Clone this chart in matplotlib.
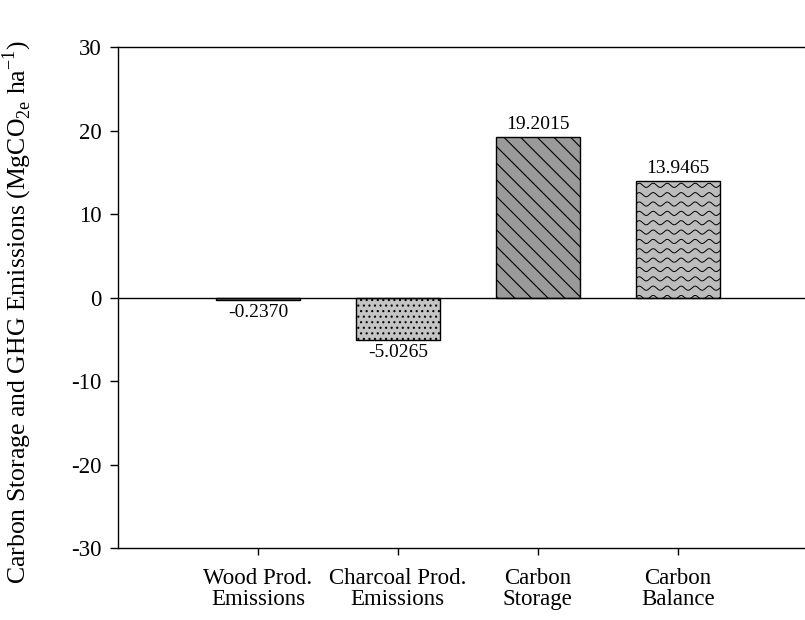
import numpy as np
import matplotlib
matplotlib.use('Agg')
import matplotlib.pyplot as plt

categories = ['Wood Prod.\nEmissions', 'Charcoal Prod.\nEmissions', 'Carbon\nStorage', 'Carbon\nBalance']
values = [-0.2370, -5.0265, 19.2015, 13.9465]
colors = ['#7a7a7a', '#c4c4c4', '#9a9a9a', '#bcbcbc']
hatches = ['', '...', '\\\\', '']

plt.rcParams['font.family'] = 'Liberation Serif'
plt.rcParams['axes.unicode_minus'] = False
plt.rcParams['hatch.linewidth'] = 0.8
plt.rcParams['hatch.color'] = 'black'

fig = plt.figure(figsize=(8.05, 6.2), dpi=100)
ax = fig.add_axes([0.1466, 0.116, 0.8534, 0.808])

pos = np.arange(1, len(values) + 1)
bars = ax.bar(pos, values, width=0.6, color=colors, edgecolor='black',
              linewidth=1.0, zorder=3)
for b, h in zip(bars, hatches):
    b.set_hatch(h)

# wavy fill for the last bar (no wave hatch in matplotlib)
wb = bars[-1]
x0, w, h = wb.get_x(), wb.get_width(), wb.get_height()
xs = np.linspace(x0, x0 + w, 400)
for yy in np.arange(h - 0.5, 0, -1.12):
    line, = ax.plot(xs, yy + 0.25 * np.sin(2 * np.pi * (xs - x0) / 0.1),
                    color='black', lw=0.7, zorder=4)
    line.set_clip_path(wb)

ax.axhline(0, color='black', lw=1.0, zorder=5)

for b, v in zip(bars, values):
    va = 'bottom' if v > 0 else 'top'
    off = 3 if v > 0 else -3
    ax.annotate(f'{v:.4f}', (b.get_x() + b.get_width() / 2, v),
                xytext=(0, off), textcoords='offset points',
                ha='center', va=va, fontsize=14)

ax.set_xlim(0, 4.91)
ax.set_ylim(-30, 30)
ax.set_yticks(np.arange(-30, 31, 10))
ax.set_xticks(pos)
ax.set_xticklabels(categories, fontsize=16.5, linespacing=1.05)
ax.tick_params(axis='y', labelsize=16.5, direction='out', length=6, width=1, pad=6)
ax.tick_params(axis='x', direction='out', length=5, width=1, pad=9)
ax.spines['right'].set_visible(False)
for s in ['left', 'top', 'bottom']:
    ax.spines[s].set_linewidth(1.0)

ax.set_ylabel(r'Carbon Storage and GHG Emissions (MgCO$_{\mathregular{2e}}$ ha$^{\mathregular{-1}}$)',
              fontsize=18.5)
ax.yaxis.set_label_coords(-0.122, 0.472)

fig.savefig('out.png', dpi=100)
